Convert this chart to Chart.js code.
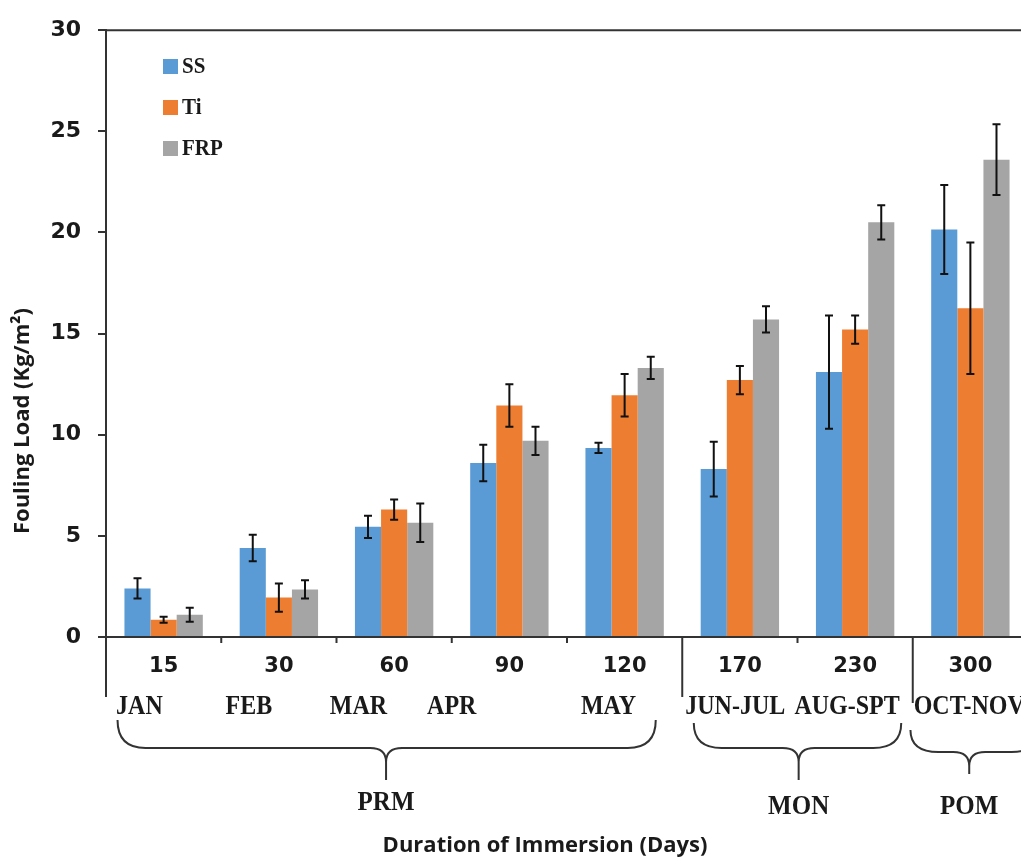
<!DOCTYPE html>
<html>
<head>
<meta charset="utf-8">
<title>Fouling Load</title>
<script src="https://cdn.jsdelivr.net/npm/chart.js@4"></script>
<style>
  html, body { margin: 0; padding: 0; background: #fff; overflow: hidden; }
  #wrap { width: 1030px; height: 864px; }
</style>
</head>
<body>
<div id="wrap"><canvas id="foulingChart" width="1030" height="864"></canvas></div>
<script>
// Data
const days = ['15', '30', '60', '90', '120', '170', '230', '300'];
const months = ['JAN', 'FEB', 'MAR', 'APR', 'MAY', 'JUN-JUL', 'AUG-SPT', 'OCT-NOV'];
const seriesNames = ['SS', 'Ti', 'FRP'];
const ssLoad = [2.4, 4.4, 5.45, 8.6, 9.35, 8.3, 13.1, 20.15];
const tiLoad = [0.85, 1.95, 6.3, 11.45, 11.95, 12.7, 15.2, 16.25];
const frpLoad = [1.1, 2.35, 5.65, 9.7, 13.3, 15.7, 20.5, 23.6];
const ssErr = [0.5, 0.65, 0.55, 0.9, 0.25, 1.35, 2.8, 2.2];
const tiErr = [0.15, 0.7, 0.5, 1.05, 1.05, 0.7, 0.7, 3.25];
const frpErr = [0.35, 0.45, 0.95, 0.7, 0.55, 0.65, 0.85, 1.75];
const yTicks = [0, 5, 10, 15, 20, 25, 30];
const seasons = ['PRM', 'MON', 'POM'];
const seasonFirst = [0, 5, 7];   // first category of each season
const seasonLast = [4, 6, 7];

// Layout (category units, relative to the x scale)
const monthPos = [-0.21, 0.74, 1.69, 2.5, 3.86, 4.96, 5.93, 6.99];
const braceFrom = [-0.4, 4.6, 6.48];
const braceTo = [4.27, 6.4, 7.6];
const braceTip = [1.93, 5.51, 6.99];

const colors = ['#5B9BD5', '#ED7D31', '#A5A5A5'];
const errors = [ssErr, tiErr, frpErr];
const axisColor = '#333';
const textColor = '#1a1a1a';
const serifFont = '"Liberation Serif", "Times New Roman", serif';
const tickFont = '"DejaVu Sans", Verdana, sans-serif';

// Error bars on top of the bars
const errorBarPlugin = {
  id: 'errorBars',
  afterDatasetsDraw(chart) {
    const ctx = chart.ctx;
    const y = chart.scales.y;
    ctx.save();
    ctx.strokeStyle = '#111';
    ctx.lineWidth = 2;
    chart.data.datasets.forEach((ds, i) => {
      const meta = chart.getDatasetMeta(i);
      meta.data.forEach((bar, j) => {
        const v = ds.data[j];
        const e = errors[i][j];
        const yHi = y.getPixelForValue(v + e);
        const yLo = y.getPixelForValue(v - e);
        ctx.beginPath();
        ctx.moveTo(bar.x, yHi); ctx.lineTo(bar.x, yLo);
        ctx.moveTo(bar.x - 4, yHi); ctx.lineTo(bar.x + 4, yHi);
        ctx.moveTo(bar.x - 4, yLo); ctx.lineTo(bar.x + 4, yLo);
        ctx.stroke();
      });
    });
    ctx.restore();
  }
};

function drawBrace(ctx, x0, x1, xt, yTop, yMid, yTip) {
  const r = 28, r2 = 16, k = 14;
  ctx.beginPath();
  ctx.moveTo(x0, yTop);
  ctx.quadraticCurveTo(x0, yMid, x0 + r, yMid);
  ctx.lineTo(xt - r2, yMid);
  ctx.quadraticCurveTo(xt, yMid, xt, yMid + k);
  ctx.lineTo(xt, yTip);
  ctx.moveTo(x1, yTop);
  ctx.quadraticCurveTo(x1, yMid, x1 - r, yMid);
  ctx.lineTo(xt + r2, yMid);
  ctx.quadraticCurveTo(xt, yMid, xt, yMid + k);
  ctx.stroke();
}

// serif labels in the picture are a little taller than wide
function tallText(ctx, text, cx, cy) {
  ctx.save();
  ctx.translate(cx, cy);
  ctx.scale(1, 1.12);
  ctx.fillText(text, 0, 0);
  ctx.restore();
}

// Frame, season dividers, month row, braces, legend and titles
const decorPlugin = {
  id: 'decor',
  afterDraw(chart) {
    const ctx = chart.ctx;
    const x = chart.scales.x;
    const area = chart.chartArea;
    const bottom = area.bottom;
    const at = v => x.getPixelForValue(v);

    ctx.save();
    ctx.strokeStyle = axisColor;
    ctx.lineWidth = 2;

    // top frame line
    ctx.beginPath();
    ctx.moveTo(area.left, area.top);
    ctx.lineTo(area.right + 10, area.top);
    ctx.stroke();

    // left axis extension below the x axis
    ctx.beginPath();
    ctx.moveTo(area.left, bottom);
    ctx.lineTo(area.left, bottom + 60);
    ctx.stroke();

    // category boundary ticks, long ones at season changes
    for (let i = 1; i < days.length; i++) {
      const bx = at(i - 0.5);
      const isSeasonEdge = seasonFirst.indexOf(i) > 0;
      ctx.beginPath();
      ctx.moveTo(bx, bottom);
      ctx.lineTo(bx, bottom + (isSeasonEdge ? (i === 7 ? 66 : 60) : 6));
      ctx.stroke();
    }

    // month row
    ctx.fillStyle = textColor;
    ctx.font = 'bold 24px ' + serifFont;
    ctx.textAlign = 'center';
    ctx.textBaseline = 'middle';
    months.forEach((m, i) => tallText(ctx, m, at(monthPos[i]), 707));

    // season braces and names
    ctx.lineWidth = 2;
    const tops = [720, 723, 730];
    const mids = [748, 748, 752];
    const tips = [780, 780, 774];
    const labelY = [803, 807, 807];
    ctx.font = 'bold 25px ' + serifFont;
    seasons.forEach((s, i) => {
      drawBrace(ctx, at(braceFrom[i]), at(braceTo[i]), at(braceTip[i]), tops[i], mids[i], tips[i]);
      tallText(ctx, s, at(braceTip[i]), labelY[i]);
    });

    // legend inside plot area
    ctx.textAlign = 'left';
    ctx.font = 'bold 21px ' + serifFont;
    chart.data.datasets.forEach((ds, i) => {
      const cy = 66 + i * 41;
      ctx.fillStyle = ds.backgroundColor;
      ctx.fillRect(163, cy - 7, 15, 15);
      ctx.fillStyle = textColor;
      tallText(ctx, ds.label, 182, cy + 1);
    });

    // axis titles
    ctx.textAlign = 'center';
    ctx.font = 'bold 22px "Open Sans", sans-serif';
    ctx.fillText('Duration of Immersion (Days)', 545, 846);
    ctx.save();
    ctx.translate(23, 421);
    ctx.rotate(-Math.PI / 2);
    ctx.font = 'bold 22px "Open Sans", sans-serif';
    ctx.fillText('Fouling Load (Kg/m\u00B2)', 0, 0);
    ctx.restore();

    ctx.restore();
  }
};

const loads = [ssLoad, tiLoad, frpLoad];

new Chart(document.getElementById('foulingChart').getContext('2d'), {
  type: 'bar',
  data: {
    labels: days,
    datasets: seriesNames.map((name, i) => ({
      label: name,
      data: loads[i],
      backgroundColor: colors[i],
      borderWidth: 0,
      categoryPercentage: 0.68,
      barPercentage: 1.0
    }))
  },
  options: {
    responsive: false,
    animation: false,
    layout: { padding: { top: 22, left: 0, right: 2, bottom: 0 } },
    plugins: {
      legend: { display: false },
      tooltip: { enabled: false }
    },
    scales: {
      x: {
        offset: true,
        grid: { display: false, drawTicks: false },
        border: { display: true, color: axisColor, width: 2 },
        ticks: {
          color: textColor,
          padding: 17,
          maxRotation: 0,
          font: { family: tickFont, size: 21, weight: 'bold' }
        },
        afterFit(scale) { scale.height = 227; }
      },
      y: {
        min: yTicks[0],
        max: yTicks[yTicks.length - 1],
        grid: { display: true, drawOnChartArea: false, drawTicks: true, tickLength: 8, color: axisColor, lineWidth: 2 },
        border: { display: true, color: axisColor, width: 2 },
        afterBuildTicks(scale) { scale.ticks = yTicks.map(v => ({ value: v })); },
        ticks: {
          color: textColor,
          padding: 17,
          font: { family: tickFont, size: 22, weight: 'bold' }
        },
        afterFit(scale) { scale.width = 106; }
      }
    }
  },
  plugins: [errorBarPlugin, decorPlugin]
});
</script>
</body>
</html>
